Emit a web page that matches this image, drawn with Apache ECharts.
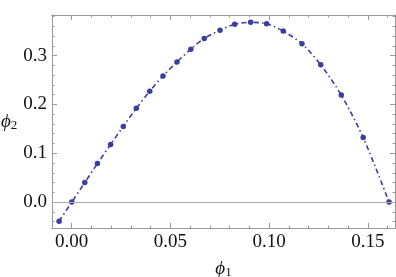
<!DOCTYPE html>
<html><head><meta charset="utf-8">
<script src="https://cdn.jsdelivr.net/npm/echarts@6/dist/echarts.min.js"></script>
<style>html,body{margin:0;padding:0;background:#fff}#c{width:396px;height:277px}</style>
</head><body><div id="c"></div>
<script>
const phi1 = [-0.0064, 0.0000, 0.0066, 0.0130, 0.0197, 0.0261, 0.0327, 0.0395, 0.0462, 0.0533, 0.0603, 0.0671, 0.0751, 0.0825, 0.0906, 0.0987, 0.1071, 0.1166, 0.1261, 0.1365, 0.1476, 0.1607];
const phi2 = [-0.039, 0.000, 0.040, 0.079, 0.118, 0.155, 0.192, 0.227, 0.258, 0.287, 0.313, 0.335, 0.352, 0.364, 0.368, 0.365, 0.350, 0.324, 0.281, 0.219, 0.132, 0.000];
const xMajorTicks = [0, 0.05, 0.10, 0.15];
const xMinorTicks = [-0.01, 0, 0.01, 0.02, 0.03, 0.04, 0.05, 0.06, 0.07, 0.08, 0.09, 0.10, 0.11, 0.12, 0.13, 0.14, 0.15, 0.16];
const yMajorTicks = [0.0, 0.1, 0.2, 0.3];
const yMinorTicks = [-0.04, -0.02, 0, 0.02, 0.04, 0.06, 0.08, 0.10, 0.12, 0.14, 0.16, 0.18, 0.20, 0.22, 0.24, 0.26, 0.28, 0.30, 0.32, 0.34, 0.36, 0.38];
const xLabelText = {0: '0.00', 0.05: '0.05', 0.1: '0.10', 0.15: '0.15'};
const yLabelText = {0: '0.0', 0.1: '0.1', 0.2: '0.2', 0.3: '0.3'};

const XMIN = -0.0100, XMAX = 0.1637, YMIN = -0.053, YMAX = 0.383;
const frame = '#999999';
const font = 'Liberation Serif';
const labelRich = {t: {fontFamily: font, fontSize: 19, color: '#111'}};

function xAx(pos, ticks, len, labels, extra) {
  return Object.assign({
    type: 'value', position: pos, min: XMIN, max: XMAX,
    axisLine: {show: true, onZero: false, lineStyle: {color: frame, width: 1}},
    axisTick: {show: true, inside: true, length: len, customValues: ticks, lineStyle: {color: frame, width: 1}},
    axisLabel: labels ? {show: true, customValues: ticks, margin: 5, fontFamily: font, fontSize: 19, color: '#111', rich: labelRich,
      formatter: v => { const s = xLabelText[Math.round(v * 100) / 100]; return s ? '{t|' + s + '}' : ''; }} : {show: false},
    splitLine: {show: false}
  }, extra || {});
}
function yAx(pos, ticks, len, labels, extra) {
  return Object.assign({
    type: 'value', position: pos, min: YMIN, max: YMAX,
    axisLine: {show: true, onZero: false, lineStyle: {color: frame, width: 1}},
    axisTick: {show: true, inside: true, length: len, customValues: ticks, lineStyle: {color: frame, width: 1}},
    axisLabel: labels ? {show: true, customValues: ticks, margin: 5, fontFamily: font, fontSize: 19, color: '#111', rich: labelRich,
      formatter: v => { const s = yLabelText[Math.round(v * 10) / 10]; return s ? '{t|' + s + '}' : ''; }} : {show: false},
    splitLine: {show: false}
  }, extra || {});
}

const chart = echarts.init(document.getElementById('c'), null, {renderer: 'canvas'});
chart.setOption({
  animation: false,
  backgroundColor: '#ffffff',
  textStyle: {fontFamily: font},
  grid: {left: 52, top: 15, right: 1, bottom: 49, containLabel: false, outerBoundsMode: 'none'},
  xAxis: [
    xAx('bottom', xMajorTicks, 5, true, {
      name: '{i|ϕ}{s|1}', nameLocation: 'middle', nameGap: 30,
      nameTextStyle: {rich: {i: {fontFamily: font, fontStyle: 'italic', fontSize: 19, color: '#111'},
                             s: {fontFamily: font, fontSize: 13, color: '#111', padding: [8, 0, 0, 0]}}}
    }),
    xAx('bottom', xMinorTicks, 2.5, false),
    xAx('top', xMajorTicks, 5, false),
    xAx('top', xMinorTicks, 2.5, false)
  ],
  yAxis: [
    yAx('left', yMajorTicks, 5, true, {
      name: '{i|ϕ}{s|2}', nameLocation: 'middle', nameRotate: 0, nameGap: 27,
      nameTextStyle: {align: 'right', rich: {i: {fontFamily: font, fontStyle: 'italic', fontSize: 19, color: '#111'},
                             s: {fontFamily: font, fontSize: 13, color: '#111', padding: [8, 0, 0, 0]}}}
    }),
    yAx('left', yMinorTicks, 2.5, false),
    yAx('right', yMajorTicks, 5, false),
    yAx('right', yMinorTicks, 2.5, false)
  ],
  series: [{
    type: 'line', xAxisIndex: 0, yAxisIndex: 0,
    data: phi1.map((x, i) => [x, phi2[i]]),
    smooth: 0.3,
    symbol: 'circle', symbolSize: 5.5,
    itemStyle: {color: '#3d3da0'},
    lineStyle: {color: '#3d3da0', width: 1.6, type: [5, 3, 1.5, 3]},
    markLine: {
      silent: true, symbol: 'none', label: {show: false},
      lineStyle: {color: '#aaaaaa', width: 1, type: 'solid'},
      data: [{yAxis: 0}]
    },
    z: 3
  }]
});
</script></body></html>
